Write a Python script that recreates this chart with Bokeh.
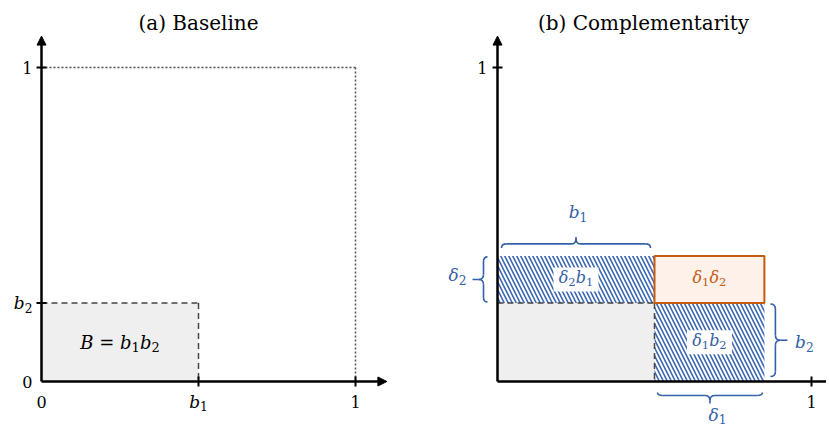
import math
from bokeh.plotting import figure
from bokeh.layouts import row
from bokeh.models import Arrow, NormalHead
from bokeh.core.properties import value
from bokeh.embed import file_html
from bokeh.resources import INLINE

# ---------------- data ----------------
b1 = 0.5      # baseline share, dimension 1
b2 = 0.25     # baseline share, dimension 2
d1 = 0.35     # delta 1
d2 = 0.15     # delta 2
axis_max = 1.0

titles = ["(a) Baseline", "(b) Complementarity"]

a_xticks = [0.0, b1, axis_max]
a_xtick_labels = [["0"], [("b", ""), ("1", "sub")], ["1"]]
a_xtick_marks = [b1, axis_max]
a_yticks = [0.0, b2, axis_max]
a_ytick_labels = [["0"], [("b", ""), ("2", "sub")], ["1"]]
a_ytick_marks = [b2, axis_max]

b_xticks = [axis_max]
b_xtick_labels = [["1"]]
b_yticks = [axis_max]
b_ytick_labels = [["1"]]

area_label_a = [("B = b", ""), ("1", "sub"), ("b", ""), ("2", "sub")]
box_labels = [[("δ", ""), ("2", "sub"), ("b", ""), ("1", "sub")],
              [("δ", ""), ("1", "sub"), ("δ", ""), ("2", "sub")],
              [("δ", ""), ("1", "sub"), ("b", ""), ("2", "sub")]]
brace_labels = [[("b", ""), ("1", "sub")], [("δ", ""), ("2", "sub")],
                [("b", ""), ("2", "sub")], [("δ", ""), ("1", "sub")]]

# ---------------- style ----------------
S = 314.0                 # pixels per data unit
def px(n):
    return n / S

FONT = value("DejaVu Serif")
BLUE = "#3460A8"
HATCH = "#3C66B3"
ORANGE = "#C55A11"
GREY_FILL = "#EFEFEF"
DASH_COL = "#444444"
ARROW_TOP = 1.1

H = 428
ORIGIN_Y = 47
CW = {"b": 0.64, "δ": 0.60, "B": 0.73, " ": 0.32, "=": 0.84}

def make_fig(w, origin_x):
    x0 = -px(origin_x)
    y0 = -px(ORIGIN_Y)
    p = figure(width=w, height=H, x_range=(x0, x0 + px(w)), y_range=(y0, y0 + px(H)),
               toolbar_location=None, output_backend="svg",
               x_axis_location=None, y_axis_location=None, min_border=0)
    p.grid.visible = False
    p.outline_line_color = None
    p.background_fill_color = "white"
    return p

def math_text(p, x, y, pieces, size, color, align="center", dy=0):
    """Italic base letters with upright subscripts, laid out with screen offsets."""
    sub_size = size * 0.72
    widths = []
    for txt, kind in pieces:
        if kind == "sub":
            widths.append(0.64 * sub_size * len(txt))
        else:
            widths.append(sum(CW.get(c, 0.62) for c in txt) * size)
    total = sum(widths)
    if align == "center":
        start = -total / 2
    elif align == "right":
        start = -total
    else:
        start = 0
    off = start
    for (txt, kind), w in zip(pieces, widths):
        if kind == "sub":
            p.text(x=[x], y=[y], text=[txt], x_offset=off, y_offset=dy + size * 0.28,
                   text_font=FONT, text_font_size=f"{sub_size:.1f}px", text_color=color,
                   text_align="left", text_baseline="middle")
        else:
            p.text(x=[x], y=[y], text=[txt], x_offset=off, y_offset=dy,
                   text_font=FONT, text_font_style="italic", text_font_size=f"{size}px",
                   text_color=color, text_align="left", text_baseline="middle")
        off += w

def axes(p, x_end):
    head = dict(size=9, fill_color="black", line_color="black", line_width=1)
    p.add_layout(Arrow(end=NormalHead(**head), x_start=0, y_start=0, x_end=0, y_end=ARROW_TOP,
                       line_width=2.5, line_color="black"))
    p.add_layout(Arrow(end=NormalHead(**head), x_start=0, y_start=0, x_end=x_end, y_end=0,
                       line_width=2.5, line_color="black"))

def ticks(p, xs, ys):
    if xs:
        p.segment(x0=xs, y0=[-px(5)] * len(xs), x1=xs, y1=[px(5)] * len(xs),
                  line_color="black", line_width=2)
    if ys:
        p.segment(x0=[-px(5)] * len(ys), y0=ys, x1=[px(5)] * len(ys), y1=ys,
                  line_color="black", line_width=2)

def label(p, x, y, lab, align):
    if isinstance(lab[0], str):      # plain number
        p.text(x=[x], y=[y], text=[lab[0]], text_font=FONT, text_font_size="16px",
               text_align=align, text_baseline="middle", text_color="black")
    else:
        math_text(p, x, y, lab, 17, "black", align)

def tick_labels(p, xs, xl, ys, yl, xoff, yoff):
    for x, lab in zip(xs, xl):
        label(p, x, -px(yoff), lab, "center")
    for y, lab in zip(ys, yl):
        label(p, -px(xoff), y, lab, "right")

def title(p, text, cx):
    p.text(x=[px(cx)], y=[px(359)], text=[text], text_font=FONT, text_font_size="20px",
           text_align="center", text_baseline="middle", text_color="black")

def brace(store, ax, ay, bx, by, nx, ny, hook, tip, r=5):
    L = math.hypot(bx - ax, by - ay)
    ux, uy = (bx - ax) / L, (by - ay) / L
    h, t, rr = px(hook), px(tip), px(r)
    rt = min(rr, t)
    m = L / 2
    def P(s, v):
        return (ax + s * ux + v * nx, ay + s * uy + v * ny)
    store["q"] += [(P(0, 0), P(rr, h), P(0, h)),
                   (P(m - rt, h), P(m, h + rt), P(m, h)),
                   (P(m + rt, h), P(m, h + rt), P(m, h)),
                   (P(L - rr, h), P(L, 0), P(L, h))]
    store["s"] += [(P(rr, h), P(m - rt, h)), (P(m + rt, h), P(L - rr, h))]
    if t > rt:
        store["s"].append((P(m, h + rt), P(m, h + t)))

# ================= panel (a) =================
pa = make_fig(418, 41)
title(pa, titles[0], 157)
# dotted unit box
pa.segment(x0=[0, axis_max], y0=[axis_max, axis_max], x1=[axis_max, axis_max], y1=[axis_max, 0],
           line_color="#4D4D4D", line_width=1.5, line_dash="2 2")
# baseline rectangle
pa.quad(left=[0], right=[b1], bottom=[0], top=[b2], fill_color=GREY_FILL, line_color=None)
pa.segment(x0=[0, b1], y0=[b2, b2], x1=[b1, b1], y1=[b2, 0],
           line_color=DASH_COL, line_width=1.5, line_dash="6 4")
math_text(pa, b1 / 2, b2 / 2, area_label_a, 18, "black")
axes(pa, ARROW_TOP)
ticks(pa, a_xtick_marks, a_ytick_marks)
tick_labels(pa, a_xticks, a_xtick_labels, a_yticks, a_ytick_labels, 9, 20)

# ================= panel (b) =================
pb = make_fig(408, 79)
title(pb, titles[1], 146)
# baseline grey area
pb.quad(left=[0], right=[b1], bottom=[0], top=[b2], fill_color=GREY_FILL, line_color=None)
# hatched increments
pb.quad(left=[0, b1], right=[b1, b1 + d1], bottom=[b2, 0], top=[b2 + d2, b2],
        fill_color="white", line_color=None, hatch_pattern="\\", hatch_color=HATCH,
        hatch_scale=8, hatch_weight=1.6)
pb.segment(x0=[0, b1], y0=[b2, b2], x1=[b1, b1], y1=[b2, 0],
           line_color=DASH_COL, line_width=1.5, line_dash="6 4")
# interaction box
pb.quad(left=[b1], right=[b1 + d1], bottom=[b2], top=[b2 + d2],
        fill_color="#FDF1EA", line_color=ORANGE, line_width=2)

# box labels
bx = [b1 / 2, b1 + d1 / 2, b1 + d1 / 2]
by = [b2 + d2 / 2, b2 + d2 / 2, b2 / 2]
pb.rect(x=[bx[0], bx[2]], y=[by[0], by[2]], width=45, height=24, width_units="screen",
        height_units="screen", fill_color="white", line_color=None)
for x, y, lab, col in zip(bx, by, box_labels, [BLUE, ORANGE, BLUE]):
    math_text(pb, x, y, lab, 16, col, dy=-2)

# braces
store = {"q": [], "s": []}
brace(store, px(4), b2 + d2 + px(8), b1 - px(4), b2 + d2 + px(8), 0, 1, 4, 7)      # top, b1
brace(store, -px(10), b2 + px(1), -px(10), b2 + d2 - px(1), -1, 0, 4, 11)         # left, d2
brace(store, b1 + d1 + px(6), px(5), b1 + d1 + px(6), b2 - px(1), 1, 0, 5, 12)     # right, b2
brace(store, b1 + px(3), -px(11), b1 + d1 - px(2), -px(11), 0, -1, 3, 8)          # bottom, d1
q = store["q"]
pb.quadratic(x0=[a[0][0] for a in q], y0=[a[0][1] for a in q],
             x1=[a[1][0] for a in q], y1=[a[1][1] for a in q],
             cx=[a[2][0] for a in q], cy=[a[2][1] for a in q],
             line_color=BLUE, line_width=1.6)
s = store["s"]
pb.segment(x0=[a[0][0] for a in s], y0=[a[0][1] for a in s],
           x1=[a[1][0] for a in s], y1=[a[1][1] for a in s],
           line_color=BLUE, line_width=1.6)

lx = [b1 / 2 + px(2), -px(40), b1 + d1 + px(40), b1 + d1 / 2 + px(8)]
ly = [b2 + d2 + px(42), b2 + d2 / 2 + px(2), b2 / 2 - px(2), -px(35)]
for x, y, lab in zip(lx, ly, brace_labels):
    math_text(pb, x, y, lab, 17, BLUE, dy=-2)

axes(pb, 1.2)
ticks(pb, b_xticks, b_yticks)
tick_labels(pb, b_xticks, b_xtick_labels, b_yticks, b_ytick_labels, 10, 20)

layout = row(pa, pb)
open("out.html", "w").write(file_html(layout, INLINE))
